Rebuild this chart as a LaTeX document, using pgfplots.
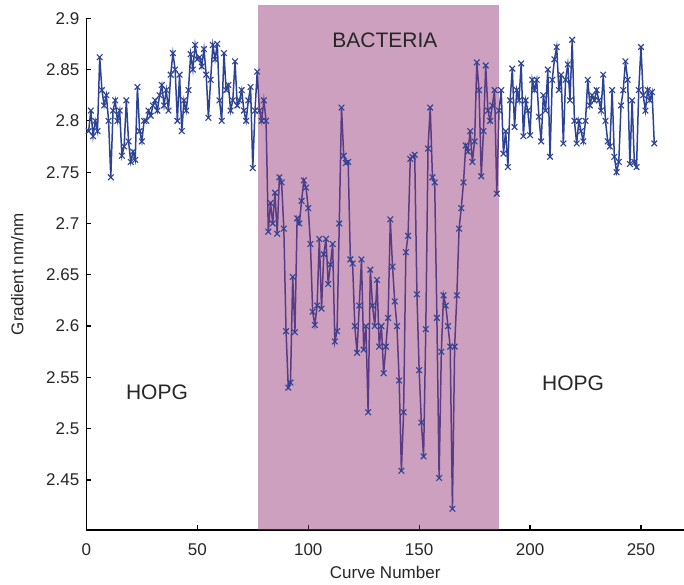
\documentclass[border=0pt]{standalone}
\usepackage{pgfplots}
\pgfplotsset{compat=1.18}
\usepackage{pgfplotstable}
\usepackage{fontspec}
\setmainfont{Liberation Sans}
\definecolor{lineblue}{RGB}{44,66,148}
\definecolor{bactpink}{RGB}{147,53,117}

\pgfplotstableread{
x y
1 2.790
2 2.810
3 2.785
4 2.800
5 2.790
6 2.862
7 2.830
8 2.815
9 2.825
10 2.800
11 2.745
12 2.810
13 2.820
14 2.800
15 2.810
16 2.766
17 2.775
18 2.820
19 2.780
20 2.760
21 2.770
22 2.762
23 2.833
24 2.790
25 2.780
26 2.800
27 2.800
28 2.810
29 2.805
30 2.815
31 2.820
32 2.810
33 2.825
34 2.835
35 2.815
36 2.830
37 2.810
38 2.845
39 2.866
40 2.850
41 2.800
42 2.845
43 2.790
44 2.820
45 2.810
46 2.830
47 2.865
48 2.850
49 2.874
50 2.860
51 2.862
52 2.853
53 2.870
54 2.845
55 2.803
56 2.840
57 2.874
58 2.860
59 2.875
60 2.820
61 2.800
62 2.866
63 2.830
64 2.835
65 2.810
66 2.820
67 2.858
68 2.815
69 2.820
70 2.830
71 2.810
72 2.800
73 2.820
74 2.833
75 2.754
76 2.810
77 2.848
78 2.810
79 2.800
80 2.820
81 2.800
82 2.692
83 2.720
84 2.700
85 2.730
86 2.690
87 2.745
88 2.740
89 2.695
90 2.595
91 2.540
92 2.545
93 2.648
94 2.594
95 2.705
96 2.700
97 2.722
98 2.742
99 2.735
100 2.715
101 2.680
102 2.614
103 2.601
104 2.620
105 2.685
106 2.617
107 2.670
108 2.685
109 2.641
110 2.660
111 2.680
112 2.585
113 2.595
114 2.700
115 2.813
116 2.766
117 2.759
118 2.760
119 2.665
120 2.661
121 2.600
122 2.574
123 2.620
124 2.665
125 2.577
126 2.600
127 2.516
128 2.655
129 2.620
130 2.600
131 2.645
132 2.580
133 2.600
134 2.554
135 2.580
136 2.608
137 2.704
138 2.658
139 2.624
140 2.600
141 2.547
142 2.459
143 2.516
144 2.672
145 2.688
146 2.763
147 2.765
148 2.767
149 2.631
150 2.557
151 2.506
152 2.473
153 2.597
154 2.773
155 2.813
156 2.745
157 2.740
158 2.608
159 2.452
160 2.575
161 2.630
162 2.620
163 2.600
164 2.580
165 2.422
166 2.580
167 2.630
168 2.695
169 2.715
170 2.740
171 2.776
172 2.770
173 2.790
174 2.760
175 2.780
176 2.857
177 2.830
178 2.746
179 2.790
180 2.854
181 2.810
182 2.800
183 2.815
184 2.830
185 2.729
186 2.810
187 2.830
188 2.768
189 2.790
190 2.755
191 2.820
192 2.851
193 2.794
194 2.830
195 2.820
196 2.856
197 2.785
198 2.820
199 2.810
200 2.786
201 2.840
202 2.830
203 2.840
204 2.804
205 2.780
206 2.825
207 2.810
208 2.850
209 2.765
210 2.840
211 2.860
212 2.872
213 2.830
214 2.845
215 2.778
216 2.840
217 2.855
218 2.820
219 2.879
220 2.800
221 2.778
222 2.800
223 2.790
224 2.780
225 2.800
226 2.840
227 2.815
228 2.825
229 2.820
230 2.830
231 2.820
232 2.810
233 2.845
234 2.800
235 2.780
236 2.775
237 2.830
238 2.765
239 2.750
240 2.760
241 2.815
242 2.830
243 2.858
244 2.840
245 2.758
246 2.820
247 2.760
248 2.755
249 2.830
250 2.872
251 2.825
252 2.810
253 2.830
254 2.820
255 2.828
256 2.778
}\gradtable

\begin{document}
\begin{tikzpicture}
\begin{axis}[
  scale only axis,
  width=298.8pt, height=255.85pt,
  xmin=0, xmax=269.4,
  ymin=2.4013, ymax=2.9,
  clip=false,
  axis lines=left,
  axis line style={-, line width=0.8pt, black},
  tick align=inside,
  major tick length=2.5pt,
  tick style={line width=0.6pt, black},
  xtick={0,50,100,150,200,250},
  ytick={2.45,2.5,2.55,2.6,2.65,2.7,2.75,2.8,2.85,2.9},
  yticklabels={2.45,2.5,2.55,2.6,2.65,2.7,2.75,2.8,2.85,2.9},
  /pgf/number format/assume math mode=true,
  tick label style={font=\fontsize{8.5}{10}\selectfont, text=black!85},
  xticklabel style={yshift=-3.5pt},
  label style={font=\fontsize{8.5}{10}\selectfont, text=black!85},
  xlabel={Curve Number},
  ylabel={Gradient nm/nm},
  xlabel style={yshift=1.8pt},
  ylabel style={yshift=4.5pt},
]
\addplot[color=lineblue, line width=0.75pt, mark=x, mark size=2pt,
  mark options={line width=0.55pt}] table[x=x,y=y]{\gradtable};
\fill[bactpink, fill opacity=0.47] (axis cs:77.5,2.4013) rectangle (axis cs:186.2,2.913);
\node[font=\fontsize{10.5}{12}\selectfont, text=black!85] at (axis cs:31.8,2.5358) {HOPG};
\node[font=\fontsize{10.5}{12}\selectfont, text=black!85] at (axis cs:219.4,2.5445) {HOPG};
\node[font=\fontsize{10.5}{12}\selectfont, text=black!85] at (axis cs:134.6,2.8788) {BACTERIA};
\coordinate (bbbl) at (axis cs:-38.95,2.3477);
\coordinate (bbtr) at (axis cs:269.4,2.9178);
\end{axis}
\pgfresetboundingbox
\path[use as bounding box] (bbbl) rectangle (bbtr);
\end{tikzpicture}
\end{document}
